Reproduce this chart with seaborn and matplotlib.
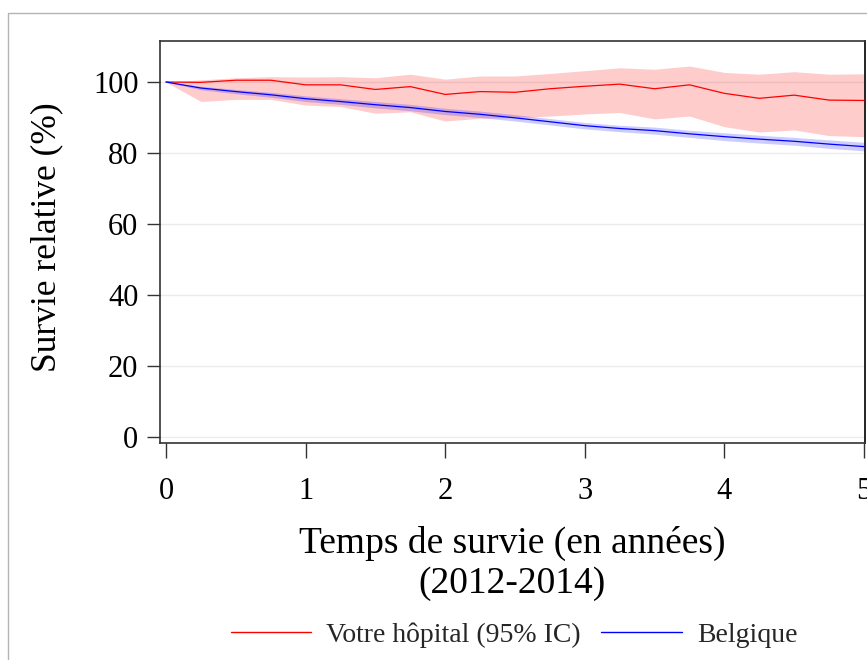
import matplotlib
matplotlib.use("Agg")
import matplotlib.pyplot as plt
from matplotlib.patches import Rectangle
from matplotlib.lines import Line2D
import seaborn as sns
import pandas as pd

# Survival time in years (quarterly follow-up)
years = [0, 0.25, 0.5, 0.75, 1.0, 1.25, 1.5, 1.75, 2.0, 2.25, 2.5,
         2.75, 3.0, 3.25, 3.5, 3.75, 4.0, 4.25, 4.5, 4.75, 5.0]

# Relative survival (%) - hospital, with 95% CI
hosp = [100, 99.9, 100.5, 100.5, 99.2, 99.2, 97.9, 98.7, 96.5, 97.3, 97.1,
        98.1, 98.8, 99.4, 98.1, 99.2, 96.8, 95.4, 96.3, 94.9, 94.8]
hosp_lo = [100, 94.5, 95.1, 95.1, 93.5, 93.1, 91.2, 91.6, 89.0, 89.8, 90.0,
           90.4, 91.0, 91.4, 89.6, 90.4, 87.4, 85.9, 86.5, 84.9, 84.6]
hosp_hi = [100, 100.6, 101.2, 101.5, 101.4, 101.5, 101.2, 102.2, 100.8, 101.7, 101.7,
           102.4, 103.2, 104.0, 103.6, 104.5, 102.7, 102.2, 102.9, 102.2, 102.3]

# Relative survival (%) - Belgium, with 95% CI
bel = [100, 98.3, 97.3, 96.4, 95.3, 94.5, 93.6, 92.8, 91.7, 90.9, 89.9,
       88.8, 87.7, 86.9, 86.3, 85.4, 84.6, 83.9, 83.3, 82.5, 81.8]
bel_lo = [100, 97.8, 96.7, 95.7, 94.5, 93.7, 92.7, 91.9, 90.8, 90.0, 89.0,
          87.9, 86.8, 86.0, 85.3, 84.4, 83.5, 82.8, 82.2, 81.3, 80.6]
bel_hi = [100, 98.8, 97.9, 97.1, 96.1, 95.3, 94.5, 93.7, 92.6, 91.8, 90.8,
          89.7, 88.6, 87.8, 87.3, 86.4, 85.7, 85.0, 84.4, 83.7, 83.0]

labels = ["Votre hôpital (95% IC)", "Belgique"]
yticks = [0, 20, 40, 60, 80, 100]
xticks = [0, 1, 2, 3, 4, 5]

sns.set_theme(style="white")
serif = ["Liberation Serif", "DejaVu Serif"]
plt.rcParams["font.family"] = serif

df = pd.DataFrame({
    "years": years * 2,
    "survie": hosp + bel,
    "groupe": [labels[0]] * len(years) + [labels[1]] * len(years),
})

fig = plt.figure(figsize=(8.67, 6.6), dpi=100)
ax = fig.add_axes([160 / 867, 1 - 443 / 660, 705 / 867, (443 - 41) / 660])

# outer frame of the graph region
fig.patches.append(Rectangle((8 / 867, -0.2), 1.5, 1.2 - 13 / 660,
                             transform=fig.transFigure, fill=False,
                             edgecolor="#b4b4b4", linewidth=1.0, zorder=0))

for yv in yticks:
    ax.axhline(yv, color="#ebebeb", linewidth=1.0, zorder=0)

ax.fill_between(years, hosp_lo, hosp_hi, color="#ff0000", alpha=0.2,
                linewidth=0, zorder=1)
ax.fill_between(years, bel_lo, bel_hi, color="#0000ff", alpha=0.2,
                linewidth=0, zorder=2)

sns.lineplot(data=df, x="years", y="survie", hue="groupe",
             palette={labels[0]: "#ff0000", labels[1]: "#0000ff"},
             linewidth=0.9, ax=ax, legend=False, zorder=3)

ax.set_xlim(-0.043, 5.007)
ax.set_ylim(-1.7, 111.55)
ax.set_xticks(xticks)
ax.set_yticks(yticks)
ax.set_xticklabels([str(v) for v in xticks])
ax.set_yticklabels([str(v) for v in yticks])

ax.tick_params(axis="y", which="major", left=True, length=9.5, width=1.0,
               color="#333333", pad=6, labelsize=22, labelcolor="black")
ax.tick_params(axis="x", which="major", bottom=True, length=10.5, width=1.0,
               color="#333333", pad=14, labelsize=22, labelcolor="black")

for side in ["left", "bottom", "top"]:
    ax.spines[side].set_color("#333333")
    ax.spines[side].set_linewidth(1.2)
ax.spines["right"].set_color("black")
ax.spines["right"].set_linewidth(1.2)

ax.set_ylabel("Survie relative (%)", fontsize=25.5, color="black")
ax.yaxis.set_label_coords(-97 / 705, 0.512)
ax.set_xlabel("Temps de survie (en années)\n(2012-2014)", fontsize=27,
              color="black", labelpad=14, linespacing=1.2)

handles = [Line2D([], [], color="#ff0000", linewidth=1.0),
           Line2D([], [], color="#0000ff", linewidth=1.0)]
fig.legend(handles, labels, loc="center", bbox_to_anchor=(514 / 867, 1 - 635 / 660),
           ncol=2, frameon=False, fontsize=20, handlelength=2.9,
           handletextpad=0.55, columnspacing=0.72)

fig.savefig("out.png", dpi=100)
